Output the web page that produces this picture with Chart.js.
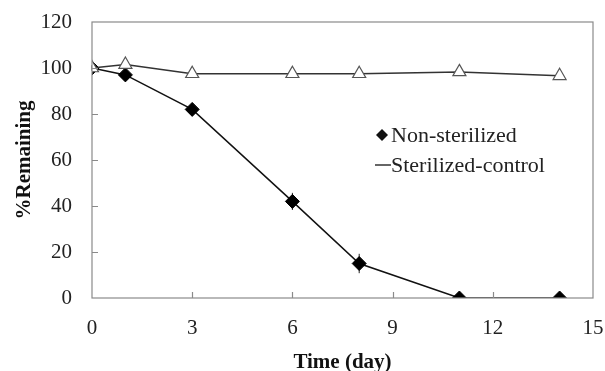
<!DOCTYPE html>
<html>
<head>
<meta charset="utf-8">
<script src="https://cdn.jsdelivr.net/npm/chart.js@4"></script>
<style>
  html, body { margin: 0; padding: 0; background: #fff; }
  #wrap { width: 605px; height: 371px; position: relative; }
</style>
</head>
<body>
<div id="wrap"><canvas id="chart" width="605" height="371"></canvas></div>
<script>
// Remaining (%) over time
const days = [0, 1, 3, 6, 8, 11, 14];
const nonSterilized = [100, 97, 82, 42, 15, 0, 0];
const nonSterilizedErr = [1, 1.5, 2.5, 3.5, 4, 0, 0];
const sterilized = [100, 101.5, 97.5, 97.5, 97.5, 98.3, 96.6];
const sterilizedErr = [0, 1, 1, 1, 1, 1.5, 1];
const xTicks = [0, 3, 6, 9, 12, 15];
const yTicks = [0, 20, 40, 60, 80, 100, 120];

const FONT = "'Liberation Serif', 'DejaVu Serif', serif";
const AXIS = '#8a8a8a';

const toPoints = (ys) => days.map((d, i) => ({ x: d, y: ys[i] }));

function noEdgePadding(s) {
  s.paddingTop = 0;
  s.paddingBottom = 0;
  s.paddingLeft = 0;
  s.paddingRight = 0;
}

// error bars, inward ticks, box frame and legend
const extras = {
  id: 'extras',
  beforeDatasetsDraw(chart) {
    const { ctx, scales: { x, y } } = chart;
    ctx.save();
    ctx.strokeStyle = '#222';
    ctx.lineWidth = 1;
    [[nonSterilized, nonSterilizedErr], [sterilized, sterilizedErr]].forEach(([vals, errs]) => {
      vals.forEach((v, i) => {
        if (!errs[i]) return;
        const px = x.getPixelForValue(days[i]);
        ctx.beginPath();
        ctx.moveTo(px, y.getPixelForValue(v - errs[i]) + 0.5);
        ctx.lineTo(px, y.getPixelForValue(v + errs[i]) - 0.5);
        ctx.stroke();
      });
    });
    ctx.restore();
  },
  afterDraw(chart) {
    const { ctx, chartArea: a, scales: { x, y } } = chart;
    ctx.save();
    ctx.strokeStyle = AXIS;
    ctx.lineWidth = 1.2;
    ctx.strokeRect(a.left, a.top, a.right - a.left, a.bottom - a.top);
    ctx.beginPath();
    xTicks.slice(1, -1).forEach(t => {
      const px = Math.round(x.getPixelForValue(t)) + 0.5;
      ctx.moveTo(px, a.bottom);
      ctx.lineTo(px, a.bottom - 6);
    });
    yTicks.slice(1, -1).forEach(t => {
      const py = Math.round(y.getPixelForValue(t)) + 0.5;
      ctx.moveTo(a.left, py);
      ctx.lineTo(a.left + 6, py);
    });
    ctx.stroke();

    // legend
    const lx = a.left + 290, ly = a.top + 113;
    ctx.fillStyle = '#111';
    ctx.beginPath();
    ctx.moveTo(lx, ly - 6);
    ctx.lineTo(lx + 6, ly);
    ctx.lineTo(lx, ly + 6);
    ctx.lineTo(lx - 6, ly);
    ctx.closePath();
    ctx.fill();
    ctx.strokeStyle = '#333';
    ctx.lineWidth = 1.5;
    ctx.beginPath();
    ctx.moveTo(lx - 7, ly + 30);
    ctx.lineTo(lx + 9, ly + 30);
    ctx.stroke();
    ctx.font = '22px ' + FONT;
    ctx.fillStyle = '#222';
    ctx.textBaseline = 'middle';
    ctx.fillText('Non-sterilized', lx + 9, ly + 1);
    ctx.fillText('Sterilized-control', lx + 9, ly + 31);
    ctx.restore();
  }
};

new Chart(document.getElementById('chart'), {
  type: 'scatter',
  data: {
    datasets: [
      {
        label: 'Sterilized-control',
        data: toPoints(sterilized),
        showLine: true,
        borderColor: '#333',
        borderWidth: 1.5,
        pointStyle: 'triangle',
        pointRadius: 7.5,
        pointBackgroundColor: '#fff',
        pointBorderColor: '#555',
        pointBorderWidth: 1.2
      },
      {
        label: 'Non-sterilized',
        data: toPoints(nonSterilized),
        showLine: true,
        borderColor: '#111',
        borderWidth: 1.5,
        pointStyle: 'rectRot',
        pointRadius: 7,
        pointBackgroundColor: '#000',
        pointBorderColor: '#000',
        pointBorderWidth: 1
      }
    ]
  },
  options: {
    responsive: false,
    animation: false,
    layout: { padding: { left: 0, right: 12, top: 22, bottom: 0 } },
    plugins: { legend: { display: false }, tooltip: { enabled: false } },
    scales: {
      x: {
        type: 'linear',
        min: 0, max: 15,
        afterBuildTicks: (s) => { s.ticks = xTicks.map(v => ({ value: v })); },
        afterFit: (s) => { s.height = 73; noEdgePadding(s); },
        grid: { display: false, drawTicks: false },
        border: { display: false },
        ticks: { color: '#222', padding: 18, font: { family: FONT, size: 21 } },
        title: {
          display: true, text: 'Time (day)', color: '#111',
          font: { family: FONT, size: 21, weight: 'bold', lineHeight: 1 },
          padding: { top: 0, bottom: -2 }
        }
      },
      y: {
        min: 0, max: 120,
        afterBuildTicks: (s) => { s.ticks = yTicks.map(v => ({ value: v })); },
        afterFit: (s) => { s.width = 92; noEdgePadding(s); },
        grid: { display: false, drawTicks: false },
        border: { display: false },
        ticks: { color: '#222', padding: 20, font: { family: FONT, size: 21 } },
        title: {
          display: true, text: '%Remaining', color: '#111',
          font: { family: FONT, size: 21, weight: 'bold', lineHeight: 1 },
          padding: { top: 14, bottom: 0 }
        }
      }
    }
  },
  plugins: [extras]
});
</script>
</body>
</html>
